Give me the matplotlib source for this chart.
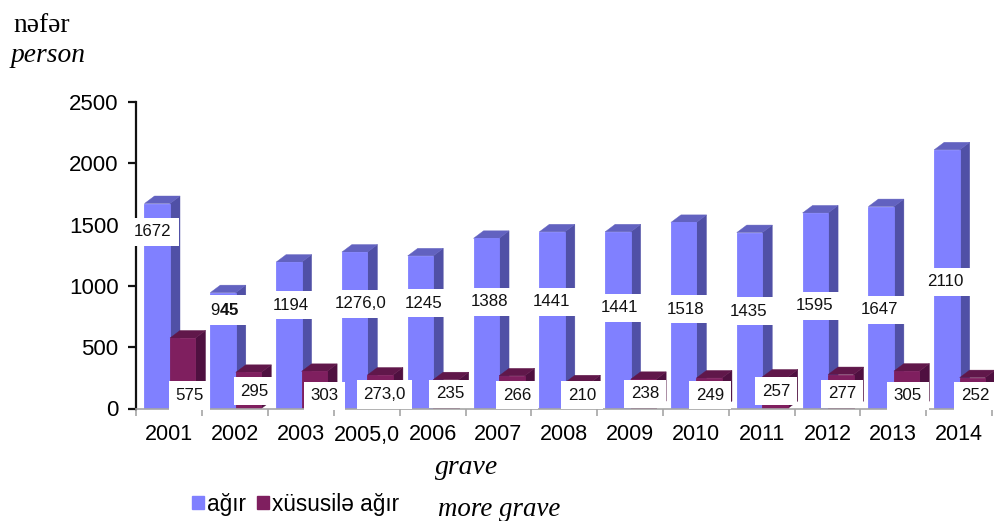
import matplotlib
matplotlib.use("Agg")
import matplotlib.pyplot as plt
from matplotlib.patches import Patch

plt.rcParams['font.family'] = ['Liberation Sans', 'DejaVu Sans']
plt.rcParams['mathtext.fontset'] = 'custom'
plt.rcParams['mathtext.rm'] = 'Liberation Sans'
plt.rcParams['mathtext.bf'] = 'Liberation Sans:bold'

categories = ['2001', '2002', '2003', '2005,0', '2006', '2007', '2008', '2009', '2010', '2011', '2012', '2013', '2014']
grave = [1672, 945, 1194, 1276, 1245, 1388, 1441, 1441, 1518, 1435, 1595, 1647, 2110]
more_grave = [575, 295, 303, 273, 235, 266, 210, 238, 249, 257, 277, 305, 252]
grave_labels = ['1672', r'9$\mathbf{45}$', '1194', '1276,0', '1245', '1388', '1441', '1441', '1518', '1435', '1595', '1647', '2110']
more_labels = ['575', '295', '303', '273,0', '235', '266', '210', '238', '249', '257', '277', '305', '252']

# label placement (pixel centres of the reference)
grave_label_xy = [(153, 232), (225, 310), (291, 305), (361, 304), (424, 303), (490, 302), (552, 302),
                  (620, 308), (686, 309), (749, 311), (815, 306), (880, 310), (945, 282)]
more_label_xy = [(189.5, 395.5), (254.5, 391), (324.5, 396), (384.5, 394.5), (450, 394), (517, 395), (582, 395),
                 (645, 394), (710, 395), (776, 391), (842, 394), (908, 396), (975, 396)]

W, H = 995, 521
L, R, T, B = 136.5, 992, 102, 408.5
fig = plt.figure(figsize=(W / 100, H / 100), dpi=100)
ax = fig.add_axes([L / W, 1 - B / H, (R - L) / W, (B - T) / H])
ax.set_xlim(0, len(categories))
ax.set_ylim(0, 2500)

bar_w = 25.5 / ((R - L) / len(categories))
offset = 8 / ((R - L) / len(categories))
dx = 10 / ((R - L) / len(categories))
dy = 7.5 / ((B - T) / 2500)


def bar3d(x, v, front, side, top, z):
    ax.bar(x, v, width=bar_w, align='edge', color=front, linewidth=0.6, edgecolor=front, zorder=z)
    ax.fill([x + bar_w, x + bar_w + dx, x + bar_w + dx, x + bar_w],
            [0, dy, v + dy, v], color=side, lw=0.3, zorder=z - 0.1, clip_on=False)
    ax.fill([x, x + dx, x + bar_w + dx, x + bar_w],
            [v, v + dy, v + dy, v], color=top, lw=0.3, zorder=z - 0.1, clip_on=False)


for i in range(len(categories)):
    bar3d(i + offset, grave[i], '#8080FF', '#5050A6', '#6262C0', 2 + i)
    bar3d(i + offset + bar_w, more_grave[i], '#7F1F5F', '#4F1040', '#60174A', 2.5 + i)

for s in ('top', 'right'):
    ax.spines[s].set_visible(False)
ax.spines['left'].set_linewidth(1.6)
ax.spines['left'].set_color('#111111')
ax.spines['bottom'].set_color('#A6A6A6')
ax.spines['bottom'].set_linewidth(1.2)
ax.spines['left'].set_zorder(30)
ax.spines['bottom'].set_zorder(30)
ax.set_yticks(range(0, 2501, 500))
ax.tick_params(axis='y', length=6, width=1.6, color='#111111', labelsize=16, pad=7)
ax.set_xticks(range(len(categories) + 1))
ax.set_xticklabels([])
ax.tick_params(axis='x', length=5, width=1.2, color='#A6A6A6')
for i, c in enumerate(categories):
    ax.annotate(c, (i + 0.5, 0), xytext=(0, -32), textcoords='offset pixels', ha='center', va='baseline',
                fontsize=15.5, annotation_clip=False)

box = dict(facecolor='white', edgecolor='none', boxstyle='square,pad=0.4')
for lab, (px, py) in list(zip(grave_labels, grave_label_xy)) + list(zip(more_labels, more_label_xy)):
    fig.text(px / W, 1 - py / H, lab, ha='center', va='center', fontsize=12.2, bbox=box, zorder=50, color='#111111')

serif = ['Liberation Serif', 'DejaVu Serif']
fig.text(13 / W, 1 - 26 / H, 'nəfər', family=serif, fontsize=19.8, ha='left', va='center')
fig.text(11 / W, 1 - 55 / H, 'person', family=serif, style='italic', fontsize=19.8, ha='left', va='center')
fig.text(435 / W, 1 - 467 / H, 'grave', family=serif, style='italic', fontsize=20, ha='left', va='center')
fig.text(438 / W, 1 - 510 / H, 'more grave', family=serif, style='italic', fontsize=19.4, ha='left', va='center')

handles = [Patch(color='#8080FF', label='ağır'), Patch(color='#7F1F5F', label='xüsusilə ağır')]
fig.legend(handles=handles, ncols=2, loc='center left', bbox_to_anchor=(192 / W, 1 - 504 / H), frameon=False,
           fontsize=16.3, handlelength=0.53, handleheight=0.53, handletextpad=0.14, columnspacing=0.46, borderpad=0, borderaxespad=0)

fig.savefig('out.png', dpi=100)
